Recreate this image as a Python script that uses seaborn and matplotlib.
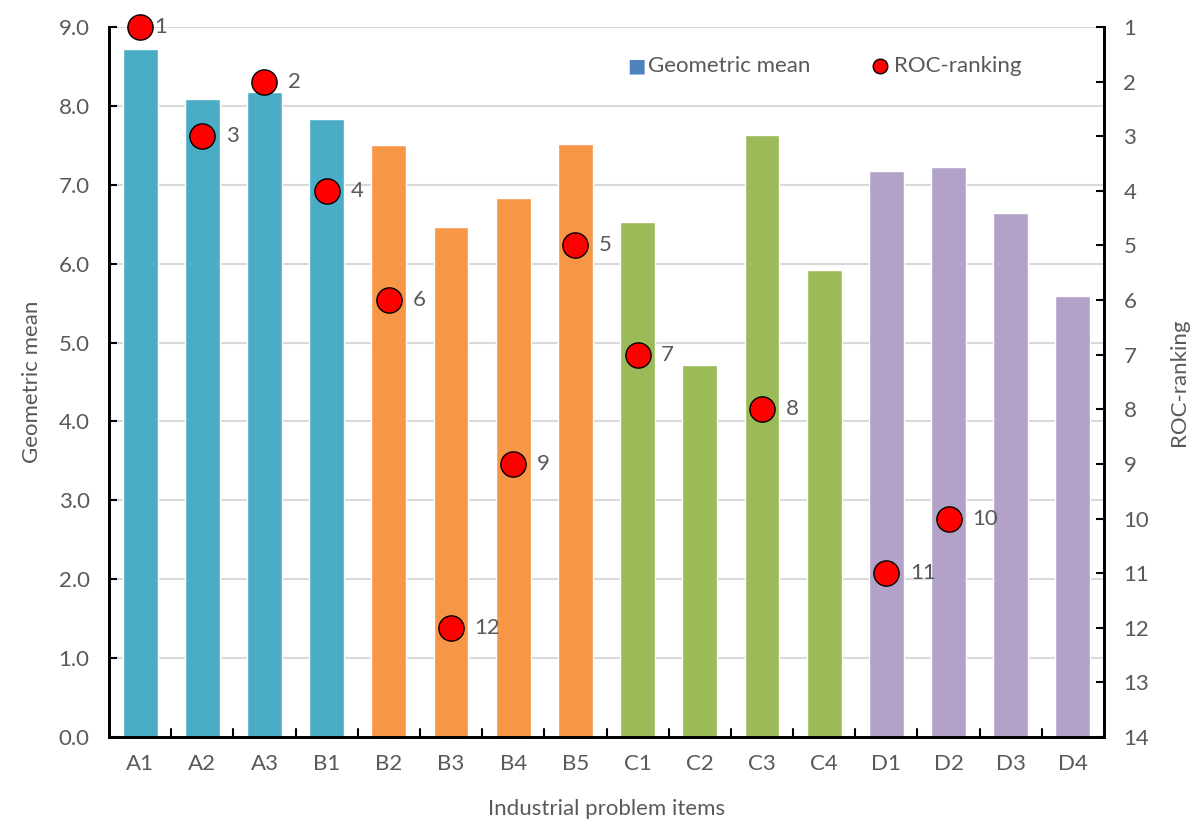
import pandas as pd
import matplotlib.pyplot as plt
import seaborn as sns

# values
items = ["A1", "A2", "A3", "B1", "B2", "B3", "B4", "B5",
         "C1", "C2", "C3", "C4", "D1", "D2", "D3", "D4"]
geo_mean = [8.72, 8.09, 8.18, 7.83, 7.50, 6.46, 6.83, 7.52,
            6.53, 4.72, 7.63, 5.92, 7.18, 7.23, 6.64, 5.59]
# None = item not ranked
roc_rank = [1, 3, 2, 4, 6, 12, 9, 5, 7, None, 8, None, 11, 10, None, None]

# bar colours go in blocks of four
bar_colors = (["#4BACC6"] * 4 + ["#F79646"] * 4 +
              ["#9BBB59"] * 4 + ["#B3A2C7"] * 4)

df = pd.DataFrame({"item": items, "geo": geo_mean, "rank": roc_rank})

sns.set_style("white")
plt.rcParams["font.family"] = ["Lato", "DejaVu Sans"]
grey = "#595959"

fig = plt.figure(figsize=(11.95, 8.23), dpi=100)
ax = fig.add_axes([109 / 1195, 1 - 737 / 823, 995 / 1195, 710 / 823])

sns.barplot(data=df, x="item", y="geo", hue="item", palette=bar_colors,
            dodge=False, width=0.56, saturation=1, legend=False, ax=ax, zorder=2)
ax.set_ylim(0, 9)
ax.set_xlim(-0.5, len(items) - 0.5)
ax.set_yticks([i for i in range(10)])
ax.set_yticklabels([f"{i:.1f}" for i in range(10)])
ax.yaxis.grid(True, color="#D9D9D9", linewidth=1.5, zorder=0)
ax.set_axisbelow(True)
ax.set_xlabel("Industrial problem items", fontsize=16, color=grey, labelpad=18)
ax.set_ylabel("Geometric mean", fontsize=16, color=grey, labelpad=12)
ax.tick_params(axis="y", direction="in", length=6, width=1.5, colors="black",
               labelcolor=grey, labelsize=16, pad=14)
ax.tick_params(axis="x", length=0, labelcolor=grey, labelsize=16, pad=12)
for x in range(1, len(items)):
    ax.plot([x - 0.5, x - 0.5], [0, 0.1], color="black", lw=1.5, zorder=3)

ax2 = ax.twinx()
ranked = df.dropna(subset=["rank"])
sns.scatterplot(data=ranked, x="item", y="rank", ax=ax2, s=330, color="#FF0000",
                edgecolor="black", linewidth=1, zorder=5, clip_on=False)
ax2.set_ylim(14, 1)
ax2.set_yticks(range(1, 15))
ax2.set_ylabel("ROC-ranking", fontsize=16, color=grey, labelpad=14)
ax2.tick_params(axis="y", direction="in", length=6, width=1.5, colors="black",
                labelcolor=grey, labelsize=16, pad=14)
for _, r in ranked.iterrows():
    dx = 10 if r["rank"] == 1 else 17
    ax2.annotate(f"{int(r['rank'])}", (items.index(r["item"]), r["rank"]),
                 xytext=(dx, 0), textcoords="offset points", fontsize=16,
                 color=grey, va="center", ha="left")

for a in (ax, ax2):
    a.spines["top"].set_visible(False)
    for s in ("left", "right", "bottom"):
        a.spines[s].set_color("black")
        a.spines[s].set_linewidth(2)

# legend
fig.text(627 / 1195, 1 - 66 / 823, "\u25A0", color="#4F81BD", fontsize=14, va="center", ha="left")
fig.text(648 / 1195, 1 - 66 / 823, "Geometric mean", color=grey, fontsize=16, va="center")
ax.scatter([880 / 1195], [1 - 66 / 823], s=110, color="#FF0000", edgecolor="black",
           linewidth=1, transform=fig.transFigure, clip_on=False, zorder=6)
fig.text(894 / 1195, 1 - 66 / 823, "ROC-ranking", color=grey, fontsize=16, va="center")

fig.savefig("out.png", dpi=100)
